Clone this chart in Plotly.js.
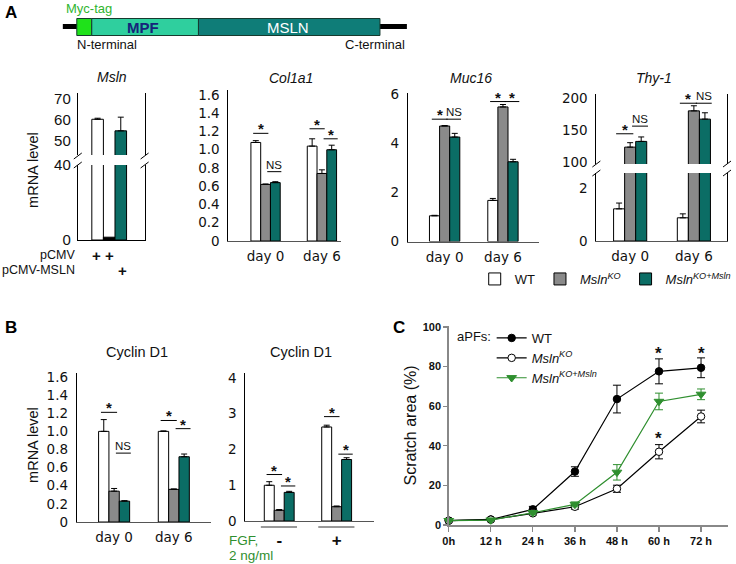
<!DOCTYPE html>
<html><head><meta charset="utf-8">
<script src="https://cdn.plot.ly/plotly-3.0.1.min.js"></script>
<style>html,body{margin:0;padding:0;background:#fff}#chart{width:736px;height:564px}</style>
</head><body><div id="chart"></div>
<script>
// ---------------- data ----------------
const seriesNames = ["WT", "<i>Msln</i><sup><i>KO</i></sup>", "<i>Msln</i><sup><i>KO+Msln</i></sup>"];
const days = ["day 0", "day 6"];
const fgfCats = ["-", "+"];
const mslnCat = ["Msln"];

const mslnWT = [60.0], mslnKO = [1.5], mslnR = [54.5];
const mslnWTErr = [0.5], mslnKOErr = [0], mslnRErr = [6.5];

const col1a1WT = [1.08, 1.04], col1a1KO = [0.62, 0.74], col1a1R = [0.64, 1.00];
const col1a1WTErr = [0.02, 0.08], col1a1KOErr = [0.005, 0.04], col1a1RErr = [0.01, 0.05];

const muc16WT = [1.05, 1.68], muc16KO = [4.72, 5.5], muc16R = [4.27, 3.26];
const muc16WTErr = [0.02, 0.08], muc16KOErr = [0.02, 0.1], muc16RErr = [0.15, 0.1];

const thy1WT = [1.22, 0.88], thy1KO = [123, 180], thy1R = [132, 167];
const thy1WTErr = [0.22, 0.15], thy1KOErr = [7, 8], thy1RErr = [7, 10];

const ccnd1WT = [1.0, 1.0], ccnd1KO = [0.34, 0.36], ccnd1R = [0.23, 0.72];
const ccnd1WTErr = [0.13, 0.005], ccnd1KOErr = [0.03, 0.005], ccnd1RErr = [0.005, 0.03];

const fgfWT = [1.0, 2.63], fgfKO = [0.3, 0.4], fgfR = [0.8, 1.72];
const fgfWTErr = [0.1, 0.05], fgfKOErr = [0.02, 0.02], fgfRErr = [0.03, 0.05];

const hours = [0, 12, 24, 36, 48, 60, 72];
const hourLabels = ["0h", "12 h", "24 h", "36 h", "48 h", "60 h", "72 h"];
const scratchWT = [2.2, 2.8, 7.9, 27.0, 63.6, 77.6, 79.4];
const scratchWTErr = [0.4, 0.5, 1.5, 2.4, 7.0, 6.3, 5.0];
const scratchKO = [2.2, 2.7, 5.9, 9.2, 18.3, 37.0, 54.8];
const scratchKOErr = [0.3, 0.4, 0.8, 1.2, 1.8, 3.6, 3.2];
const scratchR = [2.2, 2.5, 6.2, 10.4, 26.6, 62.4, 66.0];
const scratchRErr = [0.3, 0.4, 0.8, 1.2, 3.9, 4.2, 2.7];

// ---------------- helpers ----------------
const W = 736, H = 564;
const X = p => p / W;
const Y = p => 1 - p / H;
const WHITE = "#ffffff", GRAY = "#8a8a8a", TEAL = "#0b6d65", GREEN = "#2f8f2f";
const tickFont = {family: "DejaVu Sans", size: 13.5, color: "#111"};
const dayFont = {family: "DejaVu Sans", size: 13.5, color: "#111"};
const mslnTickFont = {family: "Liberation Sans", size: 15, color: "#111"};

function bar(xa, ya, x, y, err, color, name, showErr, showLeg) {
  return {
    type: "bar", x: x, y: y, xaxis: xa, yaxis: ya, name: name,
    marker: {color: color, line: {color: "#000", width: 1}},
    error_y: showErr ? {type: "data", symmetric: false, array: err, arrayminus: err.map(() => 0),
      color: "#000", thickness: 1, width: 3} : {visible: false},
    showlegend: !!showLeg, legend: "legend", hoverinfo: "skip"
  };
}
function triple(xa, ya, x, a, b, c, ea, eb, ec, errFlags, koColor, showLeg) {
  return [
    bar(xa, ya, x, a, ea, WHITE, seriesNames[0], errFlags[0], showLeg),
    bar(xa, ya, x, b, eb, koColor || GRAY, seriesNames[1], errFlags[1], showLeg),
    bar(xa, ya, x, c, ec, TEAL, seriesNames[2], errFlags[2], showLeg)
  ];
}

let traces = [];
traces = traces.concat(triple("x", "y", mslnCat, mslnWT, mslnKO, mslnR, mslnWTErr, mslnKOErr, mslnRErr, [true, false, true], "#000"));
traces = traces.concat(triple("x2", "y2", mslnCat, mslnWT, mslnKO, mslnR, mslnWTErr, mslnKOErr, mslnRErr, [false, false, false], "#000"));
traces = traces.concat(triple("x3", "y3", days, col1a1WT, col1a1KO, col1a1R, col1a1WTErr, col1a1KOErr, col1a1RErr, [true, true, true], null, true));
traces = traces.concat(triple("x4", "y4", days, muc16WT, muc16KO, muc16R, muc16WTErr, muc16KOErr, muc16RErr, [true, true, true]));
traces = traces.concat(triple("x5", "y5", days, thy1WT, thy1KO, thy1R, thy1WTErr, thy1KOErr, thy1RErr, [false, true, true]));
traces = traces.concat(triple("x6", "y6", days, thy1WT, thy1KO, thy1R, thy1WTErr, thy1KOErr, thy1RErr, [true, false, false]));
traces = traces.concat(triple("x7", "y7", days, ccnd1WT, ccnd1KO, ccnd1R, ccnd1WTErr, ccnd1KOErr, ccnd1RErr, [true, true, true]));
traces = traces.concat(triple("x8", "y8", fgfCats, fgfWT, fgfKO, fgfR, fgfWTErr, fgfKOErr, fgfRErr, [true, true, true]));

function line(y, err, color, symbol, fill, name) {
  return {
    type: "scatter", mode: "lines+markers", x: hours, y: y, xaxis: "x9", yaxis: "y9", name: name,
    line: {color: color, width: 1.2},
    marker: {symbol: symbol, size: symbol === "triangle-down" ? 8.5 : 7.5, color: fill, line: {color: color, width: 1}},
    error_y: {type: "data", array: err, color: color, thickness: 1, width: 4},
    cliponaxis: false, legend: "legend2", showlegend: true, hoverinfo: "skip"
  };
}
traces.push(line(scratchWT, scratchWTErr, "#000", "circle", "#000", seriesNames[0]));
traces.push(line(scratchKO, scratchKOErr, "#000", "circle", "#fff", seriesNames[1]));
traces.push(line(scratchR, scratchRErr, GREEN, "triangle-down", GREEN, seriesNames[2]));

// ---------------- axes ----------------
function xax(px0, px1, range, anchor, opts) {
  return Object.assign({domain: [X(px0), X(px1)], range: range, type: "category", anchor: anchor,
    showline: false, linecolor: "#000", linewidth: 1, ticks: "", showgrid: false, zeroline: false,
    showticklabels: false, tickfont: dayFont, fixedrange: true}, opts || {});
}
function yax(pyBottom, pyTop, range, tickvals, ticktext, anchor, opts) {
  return Object.assign({domain: [Y(pyBottom), Y(pyTop)], range: range, anchor: anchor,
    tickmode: "array", tickvals: tickvals, ticktext: ticktext || tickvals.map(String),
    showline: true, linecolor: "#000", linewidth: 1, ticks: "", showgrid: false, zeroline: false,
    tickfont: tickFont, ticklabelstandoff: 5, fixedrange: true}, opts || {});
}
const dec = [0, 0.2, 0.4, 0.6, 0.8, 1.0, 1.2, 1.4, 1.6];
const decText = ["0", "0.2", "0.4", "0.6", "0.8", "1.0", "1.2", "1.4", "1.6"];
const dayAxis = {showline: true, linecolor: "#555", showticklabels: true, ticklabelstandoff: 3};

const layout = {
  width: W, height: H, margin: {l: 0, r: 0, t: 0, b: 0},
  paper_bgcolor: "#fff", plot_bgcolor: "rgba(0,0,0,0)",
  barmode: "group", bargap: 0.48, bargroupgap: 0, hovermode: false,
  font: {family: "Liberation Sans, Arial, sans-serif", color: "#111"},
  xaxis: xax(78, 145, [-0.47, 0.53], "y"),
  yaxis: yax(155, 93, [43, 72.5], [50, 60, 70], null, "x", {mirror: true, tickfont: mslnTickFont, ticklabelstandoff: 3}),
  xaxis2: xax(78, 145, [-0.47, 0.53], "y2", {showline: true}),
  yaxis2: yax(240, 165, [0, 40], [0, 40], null, "x2", {mirror: true, tickfont: mslnTickFont, ticklabelstandoff: 3}),
  xaxis3: xax(229, 342, [-0.66, 1.34], "y3", dayAxis),
  yaxis3: yax(241, 90, [0, 1.655], dec, decText, "x3"),
  xaxis4: xax(409, 540, [-0.63, 1.61], "y4", dayAxis),
  yaxis4: yax(241.5, 93, [0, 6.07], [0, 2, 4, 6], null, "x4"),
  xaxis5: xax(598, 729, [-0.53, 1.52], "y5"),
  yaxis5: yax(164, 94, [96.5, 206.5], [100, 150, 200], null, "x5", {mirror: true}),
  xaxis6: xax(598, 729, [-0.53, 1.52], "y6", dayAxis),
  yaxis6: yax(241, 173, [0, 2.58], [0, 2], null, "x6", {mirror: true}),
  xaxis7: xax(77, 212, [-0.625, 1.63], "y7", dayAxis),
  yaxis7: yax(522, 373, [0, 1.644], dec, decText, "x7"),
  xaxis8: xax(246, 375, [-0.59, 1.65], "y8", {showline: true, linecolor: "#555", showticklabels: true,
    ticklabelstandoff: 4, tickfont: {family: "Liberation Sans", size: 17, weight: "bold", color: "#111"}}),
  yaxis8: yax(521, 373, [0, 4.14], [0, 1, 2, 3, 4], null, "x8"),
  xaxis9: {domain: [X(450), X(730)], range: [0, 79.7], anchor: "y9", tickmode: "array",
    tickvals: hours, ticktext: hourLabels, showline: true, linecolor: "#888", linewidth: 1.5,
    ticks: "outside", ticklen: 5, tickcolor: "#888", tickwidth: 1.2, showgrid: false, zeroline: false,
    tickfont: {family: "Liberation Sans", size: 11, weight: "bold", color: "#111"}, fixedrange: true},
  yaxis9: {domain: [Y(525), Y(326)], range: [0, 100.5], anchor: "x9", tickmode: "array",
    tickvals: [0, 20, 40, 60, 80, 100], showline: true, linecolor: "#888", linewidth: 1.5,
    ticks: "outside", ticklen: 4, tickcolor: "#888", tickwidth: 1.2, showgrid: false, zeroline: false,
    tickfont: {family: "Liberation Sans", size: 11, weight: "bold", color: "#111"}, fixedrange: true,
    title: {text: "Scratch area (%)", font: {family: "Liberation Sans", size: 16, color: "#111"}, standoff: 2}},
  legend: {orientation: "h", x: X(476), xanchor: "left", y: Y(279), yanchor: "middle",
    font: {family: "Liberation Sans", size: 13, color: "#111"}, bgcolor: "rgba(0,0,0,0)",
    itemwidth: 30, traceorder: "normal"},
  legend2: {orientation: "v", x: X(493), xanchor: "left", y: Y(323), yanchor: "top",
    font: {family: "Liberation Sans", size: 13, color: "#111"}, bgcolor: "rgba(0,0,0,0)",
    itemwidth: 30, traceorder: "normal"},
  shapes: [], annotations: []
};

// ---------------- diagram (panel A top) ----------------
function rect(x0, y0, x1, y1, fill) {
  layout.shapes.push({type: "rect", xref: "paper", yref: "paper", x0: X(x0), x1: X(x1), y0: Y(y1), y1: Y(y0),
    fillcolor: fill, line: {color: "#163a2e", width: 1}});
}
function pline(x0, y0, x1, y1, color, width) {
  layout.shapes.push({type: "line", xref: "paper", yref: "paper", x0: X(x0), x1: X(x1), y0: Y(y0), y1: Y(y1),
    line: {color: color || "#000", width: width || 1}});
}
function txt(text, x, y, opts) {
  layout.annotations.push(Object.assign({text: text, x: X(x), y: Y(y), xref: "paper", yref: "paper",
    showarrow: false, xanchor: "center", yanchor: "middle",
    font: {family: "Liberation Sans", size: 13, color: "#111"}}, opts || {}));
}
pline(63, 26.5, 408, 26.5, "#000", 5);
rect(77, 18.5, 92, 35.5, "#1fe21a");
rect(92, 18.5, 199, 35.5, "#2fcf9e");
rect(199, 18.5, 381, 35.5, "#0f7d78");
txt("MPF", 143, 27.5, {font: {family: "Liberation Sans", size: 15, weight: "bold", color: "#16237a"}});
txt("MSLN", 289, 27.5, {font: {family: "Liberation Sans", size: 15, color: "#fff"}});
txt("Myc-tag", 64, 9, {xanchor: "left", font: {family: "Liberation Sans", size: 13, color: "#2fb52f"}});
txt("N-terminal", 75, 45, {xanchor: "left"});
txt("C-terminal", 408, 45, {xanchor: "right"});
txt("A", 3, 12, {xanchor: "left", font: {family: "Liberation Sans", size: 17, weight: "bold", color: "#000"}});
txt("B", 3, 327, {xanchor: "left", font: {family: "Liberation Sans", size: 17, weight: "bold", color: "#000"}});
txt("C", 392, 327, {xanchor: "left", font: {family: "Liberation Sans", size: 17, weight: "bold", color: "#000"}});

// titles
const itFont = {family: "Liberation Sans", size: 14, style: "italic", color: "#111"};
txt("Msln", 112, 77, {font: itFont});
txt("Col1a1", 292, 78, {font: itFont});
txt("Muc16", 472, 78, {font: itFont});
txt("Thy-1", 656, 78, {font: itFont});
txt("Cyclin D1", 137, 352, {font: {family: "Liberation Sans", size: 14.5, color: "#111"}});
txt("Cyclin D1", 302, 352, {font: {family: "Liberation Sans", size: 14.5, color: "#111"}});
txt("mRNA level", 33, 170, {textangle: -90, font: {family: "Liberation Sans", size: 14.5, color: "#111"}});
txt("mRNA level", 33, 445, {textangle: -90, font: {family: "Liberation Sans", size: 14.5, color: "#111"}});

// Msln construct labels
txt("pCMV", 77, 255, {xanchor: "right", font: {family: "Liberation Sans", size: 12.5, color: "#111"}});
txt("pCMV-MSLN", 77, 270, {xanchor: "right", font: {family: "Liberation Sans", size: 12.5, color: "#111"}});
const plusFont = {family: "Liberation Sans", size: 15, weight: "bold", color: "#111"};
txt("+", 97, 255, {font: plusFont});
txt("+", 110, 255, {font: plusFont});
txt("+", 123, 270, {font: plusFont});

// FGF labels
txt("FGF,", 228, 540, {xanchor: "left", font: {family: "Liberation Sans", size: 13.5, color: GREEN}});
txt("2 ng/ml", 228, 555, {xanchor: "left", font: {family: "Liberation Sans", size: 13.5, color: GREEN}});
[0, 1].forEach(c => layout.shapes.push({type: "line", xref: "x8", yref: "paper", x0: c - 0.32, x1: c + 0.31,
  y0: Y(527), y1: Y(527), line: {color: "#333", width: 1}}));

// aPFs label
txt("aPFs:", 456, 336, {xanchor: "left", font: {family: "Liberation Sans", size: 13, color: "#111"}});

// break marks
function brk(x, y) { pline(x - 4, y + 3, x + 4, y - 3, "#000", 1); }
[78, 145].forEach(x => { brk(x, 156); brk(x, 165); });
[598, 729].forEach(x => { brk(x, 164); brk(x, 173); });

// significance markers
function sig(n, cat, pair, yv, text) {
  const xa = n === 1 ? "x" : "x" + n, ya = n === 1 ? "y" : "y" + n;
  const span = pair === "a" ? [-0.22, 0.05] : [0.03, 0.28];
  layout.shapes.push({type: "line", xref: xa, yref: ya, x0: cat + span[0], x1: cat + span[1], y0: yv, y1: yv,
    line: {color: "#000", width: 1}});
  const isStar = text === "*";
  layout.annotations.push({xref: xa, yref: ya, x: cat + (span[0] + span[1]) / 2, y: yv, text: text,
    showarrow: false, yanchor: "bottom", yshift: isStar ? -6 : -1,
    font: {family: "Liberation Sans", size: isStar ? 15 : 11.5, weight: isStar ? "bold" : "normal", color: "#111"}});
}
sig(3, 0, "a", 1.18, "*"); sig(3, 0, "b", 0.76, "NS"); sig(3, 1, "a", 1.23, "*"); sig(3, 1, "b", 1.12, "*");
sig(4, 0, "a", 5.0, "*"); sig(4, 0, "b", 5.0, "NS"); sig(4, 1, "a", 5.72, "*"); sig(4, 1, "b", 5.72, "*");
sig(5, 0, "a", 144, "*"); sig(5, 0, "b", 156, "NS"); sig(5, 1, "a", 192, "*"); sig(5, 1, "b", 192, "NS");
sig(7, 0, "a", 1.21, "*"); sig(7, 0, "b", 0.76, "NS"); sig(7, 1, "a", 1.12, "*"); sig(7, 1, "b", 1.03, "*");
sig(8, 0, "a", 1.3, "*"); sig(8, 0, "b", 0.98, "*"); sig(8, 1, "a", 2.92, "*"); sig(8, 1, "b", 1.87, "*");

// scratch asterisks
[[60, 87.5], [72, 87.5], [60, 44.5]].forEach(p => layout.annotations.push({xref: "x9", yref: "y9", x: p[0], y: p[1],
  text: "*", showarrow: false, yanchor: "middle", yshift: -2,
  font: {family: "Liberation Sans", size: 17, weight: "bold", color: "#111"}}));

Plotly.newPlot("chart", traces, layout, {staticPlot: true, displayModeBar: false});
</script></body></html>
